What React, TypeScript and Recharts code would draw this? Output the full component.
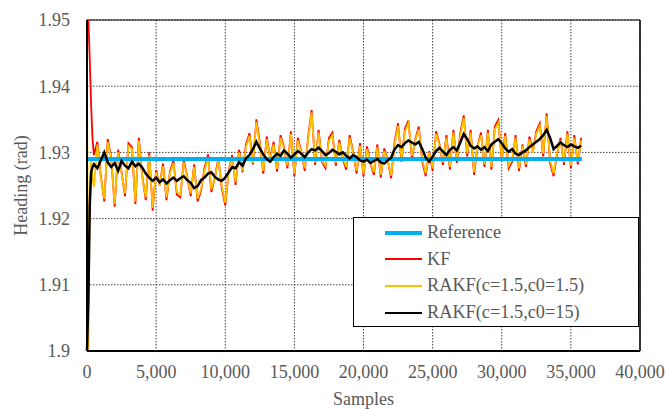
import React from 'react';
import { LineChart, Line, XAxis, YAxis, CartesianGrid, Legend, ReferenceLine, Label } from 'recharts';

const SAMPLES: number[] = [0, 100, 200, 300, 400, 500, ...Array.from({ length: 141 }, (_, i) => 750 + 250 * i)];

const KF: number[] = [
  1.9500, 1.9500, 1.9440, 1.9370, 1.9320, 1.9296,
  1.9316, 1.9264, 1.9226, 1.9320, 1.9292, 1.9218, 1.9304, 1.9270,
  1.9234, 1.9314, 1.9308, 1.9222, 1.9322, 1.9264, 1.9228, 1.9300,
  1.9212, 1.9273, 1.9250, 1.9283, 1.9228, 1.9271, 1.9288, 1.9236,
  1.9232, 1.9289, 1.9263, 1.9234, 1.9282, 1.9226, 1.9242, 1.9276,
  1.9297, 1.9240, 1.9262, 1.9292, 1.9246, 1.9220, 1.9272, 1.9296,
  1.9251, 1.9304, 1.9270, 1.9312, 1.9329, 1.9282, 1.9350, 1.9315,
  1.9268, 1.9324, 1.9291, 1.9316, 1.9271, 1.9326, 1.9308, 1.9276,
  1.9332, 1.9264, 1.9322, 1.9301, 1.9272, 1.9324, 1.9364, 1.9281,
  1.9334, 1.9286, 1.9276, 1.9322, 1.9330, 1.9280, 1.9319, 1.9290,
  1.9274, 1.9326, 1.9301, 1.9268, 1.9314, 1.9264, 1.9309, 1.9284,
  1.9266, 1.9312, 1.9262, 1.9306, 1.9289, 1.9261, 1.9316, 1.9344,
  1.9286, 1.9336, 1.9348, 1.9291, 1.9320, 1.9339, 1.9286, 1.9264,
  1.9302, 1.9272, 1.9332, 1.9312, 1.9281, 1.9326, 1.9274, 1.9334,
  1.9284, 1.9329, 1.9356, 1.9294, 1.9334, 1.9266, 1.9310, 1.9330,
  1.9278, 1.9334, 1.9274, 1.9339, 1.9349, 1.9288, 1.9329, 1.9276,
  1.9286, 1.9326, 1.9272, 1.9312, 1.9278, 1.9324, 1.9301, 1.9332,
  1.9344, 1.9294, 1.9359, 1.9284, 1.9264, 1.9298, 1.9322, 1.9281,
  1.9332, 1.9276, 1.9326, 1.9282, 1.9322,
];

const RAKF_15: number[] = [
  1.9400, 1.9000, 1.9245, 1.9290, 1.9262, 1.9248,
  1.9312, 1.9262, 1.9230, 1.9316, 1.9290, 1.9222, 1.9300, 1.9268,
  1.9238, 1.9310, 1.9305, 1.9226, 1.9318, 1.9262, 1.9232, 1.9296,
  1.9216, 1.9270, 1.9250, 1.9279, 1.9232, 1.9268, 1.9284, 1.9240,
  1.9236, 1.9285, 1.9262, 1.9238, 1.9278, 1.9230, 1.9245, 1.9272,
  1.9293, 1.9244, 1.9262, 1.9288, 1.9250, 1.9224, 1.9270, 1.9292,
  1.9255, 1.9300, 1.9272, 1.9308, 1.9325, 1.9284, 1.9346, 1.9312,
  1.9272, 1.9320, 1.9290, 1.9312, 1.9275, 1.9322, 1.9306, 1.9280,
  1.9328, 1.9268, 1.9318, 1.9300, 1.9276, 1.9320, 1.9360, 1.9285,
  1.9330, 1.9288, 1.9280, 1.9318, 1.9326, 1.9284, 1.9315, 1.9292,
  1.9278, 1.9322, 1.9300, 1.9272, 1.9310, 1.9268, 1.9305, 1.9285,
  1.9270, 1.9308, 1.9266, 1.9302, 1.9288, 1.9265, 1.9312, 1.9340,
  1.9290, 1.9332, 1.9344, 1.9295, 1.9318, 1.9335, 1.9290, 1.9268,
  1.9300, 1.9276, 1.9328, 1.9310, 1.9285, 1.9322, 1.9278, 1.9330,
  1.9288, 1.9325, 1.9352, 1.9298, 1.9330, 1.9270, 1.9310, 1.9326,
  1.9282, 1.9330, 1.9278, 1.9335, 1.9345, 1.9292, 1.9325, 1.9280,
  1.9290, 1.9322, 1.9276, 1.9310, 1.9282, 1.9320, 1.9300, 1.9328,
  1.9340, 1.9298, 1.9355, 1.9288, 1.9268, 1.9300, 1.9318, 1.9285,
  1.9328, 1.9280, 1.9322, 1.9286, 1.9318,
];

const RAKF_150: number[] = [
  1.9000, 1.9080, 1.9220, 1.9270, 1.9278, 1.9282,
  1.9276, 1.9288, 1.9300, 1.9285, 1.9278, 1.9284, 1.9272, 1.9287,
  1.9280, 1.9276, 1.9286, 1.9279, 1.9283, 1.9277, 1.9268, 1.9262,
  1.9257, 1.9262, 1.9255, 1.9259, 1.9253, 1.9258, 1.9262, 1.9257,
  1.9261, 1.9264, 1.9258, 1.9254, 1.9246, 1.9249, 1.9258, 1.9262,
  1.9268, 1.9270, 1.9263, 1.9259, 1.9257, 1.9262, 1.9270, 1.9278,
  1.9276, 1.9285, 1.9280, 1.9291, 1.9296, 1.9305, 1.9316, 1.9306,
  1.9297, 1.9290, 1.9286, 1.9293, 1.9298, 1.9295, 1.9303, 1.9298,
  1.9292, 1.9297, 1.9302, 1.9298, 1.9293, 1.9300, 1.9305, 1.9303,
  1.9307, 1.9302, 1.9296, 1.9299, 1.9304, 1.9301, 1.9297, 1.9300,
  1.9295, 1.9291, 1.9296, 1.9293, 1.9288, 1.9286, 1.9289, 1.9284,
  1.9287, 1.9290, 1.9285, 1.9283, 1.9288, 1.9292, 1.9305, 1.9311,
  1.9308, 1.9314, 1.9318, 1.9315, 1.9312, 1.9316, 1.9305, 1.9292,
  1.9286, 1.9294, 1.9302, 1.9307, 1.9301, 1.9296, 1.9304, 1.9308,
  1.9303, 1.9315, 1.9328, 1.9320, 1.9310, 1.9306, 1.9309, 1.9304,
  1.9308, 1.9302, 1.9312, 1.9316, 1.9320, 1.9314, 1.9306, 1.9301,
  1.9305, 1.9298, 1.9296, 1.9300, 1.9303, 1.9308, 1.9312, 1.9316,
  1.9320, 1.9326, 1.9334, 1.9322, 1.9305, 1.9310, 1.9315, 1.9311,
  1.9308, 1.9312, 1.9309, 1.9307, 1.9310,
];

const REF_SAMPLES: number[] = [0, 35800];
const REF_VALUES: number[] = [1.929, 1.929];

const X_TICKS: number[] = [0, 5000, 10000, 15000, 20000, 25000, 30000, 35000, 40000];
const Y_TICKS: number[] = [1.9, 1.91, 1.92, 1.93, 1.94, 1.95];

const SERIES_NAMES = ['Reference', 'KF', 'RAKF(c=1.5,c0=1.5)', 'RAKF(c=1.5,c0=15)'];

const data = SAMPLES.map((s, i) => ({ s, kf: KF[i], r1: RAKF_15[i], r2: RAKF_150[i] }));
const refData = REF_SAMPLES.map((s, i) => ({ s, ref: REF_VALUES[i] }));

const FONT = 'Liberation Serif';
const TXT = '#595959';
const FS = 18;

const legendItems = [
  { name: SERIES_NAMES[0], color: '#00B0F0', w: 4 },
  { name: SERIES_NAMES[1], color: '#FF0000', w: 2 },
  { name: SERIES_NAMES[2], color: '#FFC000', w: 2 },
  { name: SERIES_NAMES[3], color: '#000000', w: 2 },
];

const LegendBox = () => (
  <div
    style={{
      width: 286,
      height: 110,
      border: '1.5px solid #000',
      background: '#fff',
      boxSizing: 'border-box',
      position: 'relative',
      fontFamily: FONT,
      fontSize: 18.3,
      color: TXT,
    }}
  >
    {legendItems.map((it, i) => (
      <div key={it.name} style={{ position: 'absolute', left: 0, top: 2.5 + i * 26.7, height: 24, display: 'flex', alignItems: 'center' }}>
        <svg width={70} height={24} style={{ display: 'block' }}>
          <line x1={31} x2={68} y1={12} y2={12} stroke={it.color} strokeWidth={it.w} />
        </svg>
        <span style={{ marginLeft: 3, whiteSpace: 'nowrap', fontFamily: FONT }}>{it.name}</span>
      </div>
    ))}
  </div>
);

export default function App() {
  return (
    <div style={{ position: 'absolute', left: 0, top: 0, width: 666, height: 409, background: '#fff', fontFamily: FONT }}>
      <LineChart width={666} height={409} data={data} margin={{ top: 20, right: 26, left: 0, bottom: 0 }} style={{ fontFamily: FONT }}>
        <CartesianGrid stroke="#444" strokeDasharray="1.5 1.5" strokeWidth={1} />
        <XAxis
          dataKey="s"
          type="number"
          domain={[0, 40000]}
          ticks={X_TICKS}
          tickFormatter={(v: number) => v.toLocaleString('en-US')}
          axisLine={{ stroke: '#000', strokeWidth: 2 }}
          tickLine={false}
          tickSize={0}
          tickMargin={14}
          height={58}
          tick={{ fill: TXT, fontSize: FS, fontFamily: FONT }}
          interval={0}
        >
          <Label value="Samples" position="insideBottom" offset={4} style={{ fill: TXT, fontSize: FS, fontFamily: FONT }} />
        </XAxis>
        <YAxis
          type="number"
          domain={[1.9, 1.95]}
          ticks={Y_TICKS}
          allowDataOverflow
          tickFormatter={(v: number) => String(Number(v.toFixed(2)))}
          axisLine={{ stroke: '#000', strokeWidth: 2 }}
          tickLine={false}
          tickSize={0}
          tickMargin={17}
          width={87}
          tick={{ fill: TXT, fontSize: FS, fontFamily: FONT }}
          interval={0}
        >
          <Label value="Heading (rad)" angle={-90} position="insideLeft" offset={21} style={{ fill: TXT, fontSize: FS, fontFamily: FONT, textAnchor: 'middle' }} />
        </YAxis>
        <ReferenceLine x={40000} stroke="#000" strokeWidth={1.5} />
        <ReferenceLine y={1.95} stroke="#000" strokeWidth={1} />
        <Line dataKey="kf" name={SERIES_NAMES[1]} stroke="#FF0000" strokeWidth={1.8} dot={false} isAnimationActive={false} />
        <Line dataKey="r1" name={SERIES_NAMES[2]} stroke="#FFC000" strokeWidth={1.8} dot={false} isAnimationActive={false} />
        <Line data={refData} dataKey="ref" name={SERIES_NAMES[0]} stroke="#00B0F0" strokeWidth={4} dot={false} isAnimationActive={false} />
        <Line dataKey="r2" name={SERIES_NAMES[3]} stroke="#000000" strokeWidth={2.5} dot={false} isAnimationActive={false} />
        <Legend
          layout="vertical"
          align="center"
          verticalAlign="middle"
          content={() => <LegendBox />}
          wrapperStyle={{ position: 'absolute', left: 353, top: 217, width: 286, height: 110 }}
        />
      </LineChart>
    </div>
  );
}
